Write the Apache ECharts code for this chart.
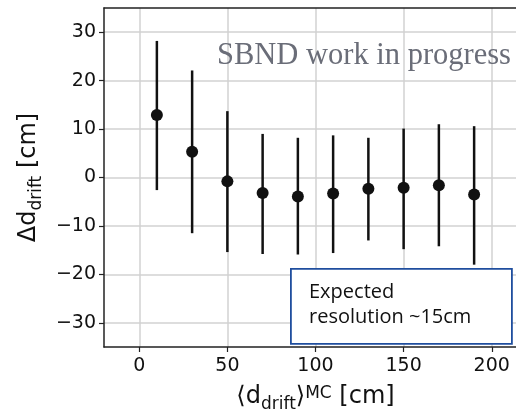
<!DOCTYPE html>
<html>
<head>
<meta charset="utf-8">
<script src="https://cdn.jsdelivr.net/npm/echarts@6/dist/echarts.min.js"></script>
<style>html,body{margin:0;padding:0;background:#fff;}#c{width:516px;height:414px;}</style>
</head>
<body>
<div id="c"></div>
<script>
// Data
const xCenters = [10, 30, 50, 70, 90, 110, 130, 150, 170, 190];
const yMeans   = [12.9, 5.3, -0.8, -3.2, -3.9, -3.3, -2.3, -2.1, -1.6, -3.5];
const yLow     = [-2.6, -11.5, -15.4, -15.8, -15.9, -15.6, -13.0, -14.8, -14.2, -18.0];
const yHigh    = [28.2, 22.1, 13.7, 9.0, 8.2, 8.7, 8.2, 10.1, 11.0, 10.6];
const xTicks   = [0, 50, 100, 150, 200];
const yTicks   = [-30, -20, -10, 0, 10, 20, 30];

const chart = echarts.init(document.getElementById('c'), null, {renderer: 'canvas'});
const points = xCenters.map((x, i) => [x, yMeans[i]]);
const bars = xCenters.map((x, i) => [x, yLow[i], yHigh[i]]);
const tickFont = {fontFamily: 'DejaVu Sans', fontSize: 19, color: '#111'};
const richLabel = {
  m: {fontFamily: 'DejaVu Sans', fontSize: 24, lineHeight: 24, color: '#111'},
  sub: {fontFamily: 'DejaVu Sans', fontSize: 17, lineHeight: 17, padding: [11, 0, 0, 0], verticalAlign: 'top', color: '#111'},
  sup: {fontFamily: 'DejaVu Sans', fontSize: 17, lineHeight: 17, verticalAlign: 'top', color: '#111'}
};

chart.setOption({
  animation: false,
  grid: {left: 104, top: 8, right: -11, bottom: 67, containLabel: false, outerBoundsMode: 'none'},
  xAxis: [{
    type: 'value', min: -20, max: 220,
    name: '{m|⟨d}{sub|drift}{m|⟩}{sup|MC}{m| [cm]}',
    nameLocation: 'middle', nameGap: 38,
    nameTextStyle: {rich: richLabel},
    axisLine: {show: true, onZero: false, lineStyle: {color: '#222', width: 1.5}},
    axisTick: {show: true, length: 5, customValues: xTicks, lineStyle: {color: '#222', width: 1.2}},
    axisLabel: {customValues: xTicks, margin: 10, ...tickFont},
    splitLine: {show: true, lineStyle: {color: '#d2d2d2', width: 1.5}}
  }, {
    type: 'value', min: -20, max: 220, position: 'top',
    axisLine: {show: true, onZero: false, lineStyle: {color: '#222', width: 1.5}},
    axisTick: {show: false}, axisLabel: {show: false}, splitLine: {show: false}
  }],
  yAxis: {
    type: 'value', min: -35, max: 35,
    name: '{m|Δd}{sub|drift}{m| [cm]}',
    nameLocation: 'middle', nameRotate: 90, nameGap: 52,
    nameTextStyle: {rich: richLabel},
    axisLine: {show: true, onZero: false, lineStyle: {color: '#222', width: 1.5}},
    axisTick: {show: true, length: 5, customValues: yTicks, lineStyle: {color: '#222', width: 1.2}},
    axisLabel: {customValues: yTicks, margin: 8, ...tickFont, formatter: v => (v < 0 ? '\u2212' + (-v) : '' + v)},
    splitLine: {show: true, lineStyle: {color: '#d2d2d2', width: 1.5}}
  },
  graphic: [
    {type: 'text', left: 217, top: 40, z: 10,
     style: {text: 'SBND work in progress', font: '30.5px "Liberation Serif"', fill: '#6a6d78'}},
    {type: 'rect', left: 290, top: 268, z: 10,
     shape: {width: 221, height: 75},
     style: {fill: '#fff', stroke: '#1f4e9e', lineWidth: 1.8}},
    {type: 'text', left: 309, top: 280, z: 11,
     style: {text: 'Expected\nresolution ~15cm', font: '20px "Open Sans"', lineHeight: 25, fill: '#111'}}
  ],
  series: [{
    type: 'custom',
    data: bars,
    renderItem: (params, api) => {
      const lo = api.coord([api.value(0), api.value(1)]);
      const hi = api.coord([api.value(0), api.value(2)]);
      return {type: 'line', shape: {x1: lo[0], y1: lo[1], x2: hi[0], y2: hi[1]},
              style: {stroke: '#111', lineWidth: 2.5}};
    },
    z: 3
  }, {
    type: 'scatter',
    data: points,
    symbol: 'circle', symbolSize: 12,
    itemStyle: {color: '#111', opacity: 1},
    z: 4
  }]
});
</script>
</body>
</html>
